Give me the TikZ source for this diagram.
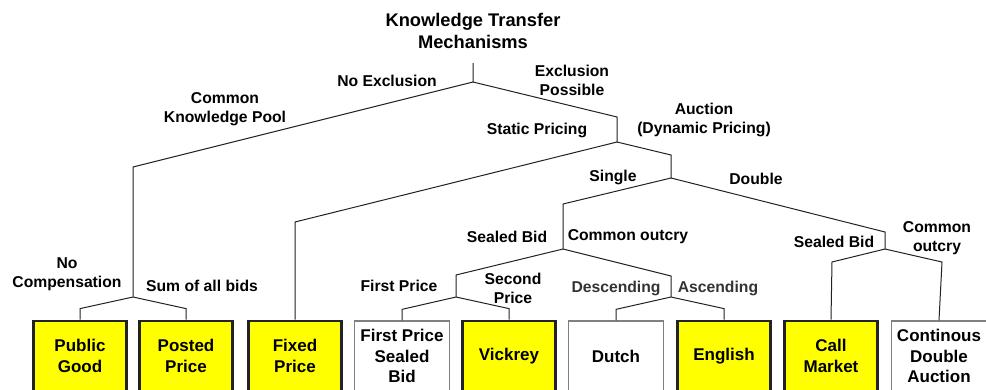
\documentclass[tikz,border=0pt]{standalone}
\usepackage{fontspec}
\setmainfont{Liberation Sans}
\usepackage{tikz}
\usetikzlibrary{positioning}

\definecolor{pick}{RGB}{255,255,0}
\definecolor{edge}{RGB}{34,34,34}
\definecolor{softtext}{RGB}{51,51,51}

\begin{document}
\begin{tikzpicture}[x=1pt,y=-1pt,
  lbl/.style={font=\fontsize{15.7}{18.8}\selectfont\bfseries, align=center, inner sep=0pt},
  head/.style={font=\fontsize{18.3}{22}\selectfont\bfseries, align=center, inner sep=0pt},
  leaf/.style={draw=gray, line width=1.3pt, fill=white, minimum width=95pt, minimum height=70pt,
    inner sep=0pt, align=center, font=\fontsize{17}{20.4}\selectfont\bfseries},
  chosen/.style={leaf, draw=edge, line width=2.8pt, fill=pick, minimum width=93pt},
  tree/.style={line width=1pt, edge}]
  \useasboundingbox (0,0) rectangle (986,389);
  \clip (0,0) rectangle (986,389);

  \node[head] (kt) at (473,31) {Knowledge Transfer\\Mechanisms};

  % junctions
  \coordinate (top) at (473,63);
  \coordinate (r) at (473,82);
  \coordinate (nx) at (133,167);
  \coordinate (nxj) at (133,297);
  \coordinate (ex) at (617,117);
  \coordinate (exj) at (617,142);
  \coordinate (st) at (295,222);
  \coordinate (au) at (671,155);
  \coordinate (auj) at (671,178);
  \coordinate (si) at (563,204);
  \coordinate (sij) at (563,249);
  \coordinate (db) at (885,232);
  \coordinate (dbj) at (885,249);
  \coordinate (sb) at (456,275);
  \coordinate (sbj) at (456,297);
  \coordinate (co) at (671,276);
  \coordinate (coj) at (671,297);
  \coordinate (dsb) at (832,262);
  \coordinate (dco) at (942,262);

  % leaves
  \node[chosen] (pub) at (80,356) {Public\\Good};
  \node[chosen] (post) at (186,356) {Posted\\Price};
  \node[chosen] (fix) at (295,356) {Fixed\\Price};
  \node[leaf] (fpsb) at (402,356) {First Price\\Sealed\\Bid};
  \node[chosen] (vick) at (509,356) {Vickrey};
  \node[leaf] (dutch) at (616,356) {Dutch};
  \node[chosen] (eng) at (724,356) {English};
  \node[chosen] (call) at (831,356) {Call\\Market};
  \node[leaf] (cda) at (939,356) {Continous\\Double\\Auction};

  % branches
  \draw[tree] (top) -- (r) -- (nx) -- (nxj);
  \draw[tree] (r) -- (ex) -- (exj) -- (st) -- (fix.north);
  \draw[tree] (exj) -- (au) -- (auj) -- (si) -- (sij);
  \draw[tree] (auj) -- (db) -- (dbj);
  \draw[tree] (sij) -- (sb) -- (sbj);
  \draw[tree] (sij) -- (co) -- (coj);
  \draw[tree] (dbj) -- (dsb) -- (call.north);
  \draw[tree] (dbj) -- (dco) -- (cda.north);
  \draw[tree] (nxj) -- ([yshift=11pt]pub.north) -- (pub.north);
  \draw[tree] (nxj) -- ([yshift=11pt]post.north) -- (post.north);
  \draw[tree] (sbj) -- ([yshift=11pt]fpsb.north) -- (fpsb.north);
  \draw[tree] (sbj) -- ([yshift=11pt]vick.north) -- (vick.north);
  \draw[tree] (coj) -- ([yshift=11pt]dutch.north) -- (dutch.north);
  \draw[tree] (coj) -- ([yshift=11pt]eng.north) -- (eng.north);

  % edge labels
  \node[lbl] (noex) at (387,81) {No Exclusion};
  \node[lbl] (ckp) at (225,109) {Common\\Knowledge Pool};
  \node[lbl] (expo) at (572,80) {Exclusion\\Possible};
  \node[lbl] (stat) at (537,130) {Static Pricing};
  \node[lbl] (auct) at (704,120) {Auction\\(Dynamic Pricing)};
  \node[lbl] (sing) at (613,177) {Single};
  \node[lbl] (dbl) at (756,179) {Double};
  \node[lbl] (sbl) at (507,237) {Sealed Bid};
  \node[lbl] (col) at (628,237) {Common outcry};
  \node[lbl] (sbr) at (834,242) {Sealed Bid};
  \node[lbl] (cor) at (937,238) {Common\\outcry};
  \node[lbl] (fp) at (399,286) {First Price};
  \node[lbl] (sp) at (513,288) {Second\\Price};
  \node[lbl, softtext] (desc) at (616,288) {Descending};
  \node[lbl, softtext] (asc) at (718,288) {Ascending};
  \node[lbl] (nocomp) at (67,274) {No\\Compensation};
  \node[lbl] (sum) at (202,286) {Sum of all bids};
\end{tikzpicture}
\end{document}
